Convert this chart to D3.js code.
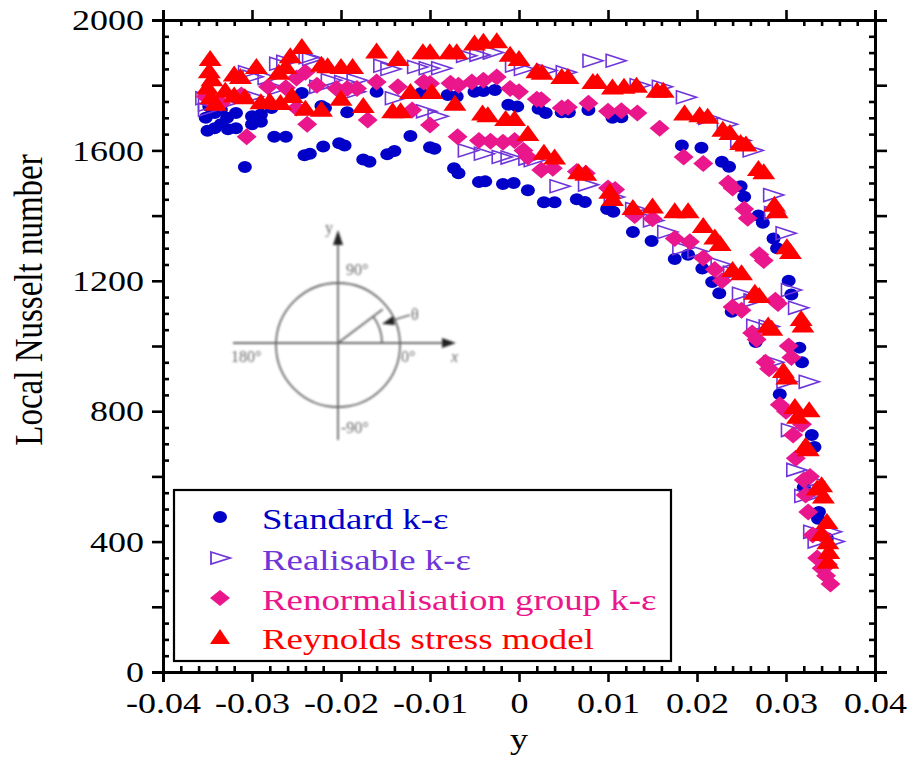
<!DOCTYPE html>
<html>
<head>
<meta charset="utf-8">
<script src="https://cdn.jsdelivr.net/npm/d3@7"></script>
<style>
  html, body { margin: 0; padding: 0; background: #fff; }
  svg text { font-family: "Liberation Serif", "Times New Roman", serif; }
</style>
</head>
<body>
<svg id="chart" width="917" height="763"></svg>
<script>
// Local Nusselt number along the wall coordinate y, four turbulence models.
// Each series holds [y, Nu] pairs (two branches per model).
const standardKE = [
  [-0.0352,1700],[-0.0348,1735],[-0.0342,1715],[-0.0335,1725],[-0.0328,1700],[-0.0318,1715],[-0.0300,1705],[-0.0290,1710],[-0.0278,1730],
  [-0.0244,1776],[-0.0222,1736],[-0.0218,1730],[-0.0193,1717],[-0.0160,1780],[-0.0110,1776],[-0.0080,1770],[-0.0070,1765],[-0.0050,1780],
  [-0.0040,1782],[-0.0027,1785],[-0.0012,1740],[-0.0002,1735],[0.0022,1728],[0.0030,1715],[0.0048,1717],[0.0056,1717],[0.0078,1724],
  [0.0105,1700],[0.0115,1702],[0.0183,1615],[0.0205,1608],[0.0228,1565],[0.0236,1550],[0.0249,1490],[0.0253,1458],[0.0269,1400],
  [0.0274,1378],[0.0286,1330],[0.0290,1300],[0.0303,1200],[0.0306,1158],[0.0315,995],[0.0318,950],[0.0329,727],[0.0332,690],
  [0.0337,491],[0.0346,410],
  [-0.0350,1660],[-0.0342,1668],[-0.0335,1680],[-0.0327,1665],[-0.0318,1668],[-0.0308,1549],[-0.0300,1680],[-0.0290,1688],[-0.0275,1642],
  [-0.0262,1642],[-0.0241,1585],[-0.0235,1590],[-0.0220,1612],[-0.0202,1622],[-0.0196,1615],[-0.0175,1572],[-0.0168,1565],[-0.0148,1588],
  [-0.0140,1598],[-0.0122,1644],[-0.0100,1610],[-0.0095,1605],[-0.0073,1545],[-0.0068,1530],[-0.0045,1503],[-0.0038,1505],[-0.0018,1497],
  [-0.0006,1500],[0.0010,1478],[0.0028,1441],[0.0040,1441],[0.0065,1450],[0.0074,1442],[0.0099,1420],[0.0106,1412],[0.0128,1350],
  [0.0149,1322],[0.0175,1267],[0.0190,1280],[0.0206,1238],[0.0217,1196],[0.0225,1162],[0.0239,1105],[0.0266,1012],[0.0293,852],
  [0.0320,567],[0.0336,470]
];
const realisableKE = [
  [-0.0353,1760],[-0.0350,1740],[-0.0305,1840],[-0.0300,1826],[-0.0283,1822],[-0.0270,1866],[-0.0262,1872],[-0.0237,1886],[-0.0233,1880],
  [-0.0212,1815],[-0.0197,1810],[-0.0183,1815],[-0.0153,1860],[-0.0145,1850],[-0.0115,1856],[-0.0102,1852],[-0.0088,1852],[-0.0060,1890],
  [-0.0045,1893],[-0.0030,1900],[-0.0005,1860],[0.0005,1850],[0.0030,1845],[0.0052,1840],[0.0082,1875],[0.0108,1875],[0.0135,1800],
  [0.0160,1795],[0.0187,1763],[0.0212,1700],[0.0233,1680],[0.0248,1630],[0.0262,1600],[0.0285,1463],[0.0286,1408],[0.0299,1346],
  [0.0305,1172],[0.0313,1117],[0.0325,890],[0.0330,585],[0.0333,545],[0.0350,430],[0.0353,400],
  [-0.0350,1725],[-0.0330,1745],[-0.0300,1765],[-0.0272,1790],[-0.0225,1795],[-0.0185,1780],[-0.0140,1760],[-0.0105,1720],[-0.0092,1705],
  [-0.0058,1600],[-0.0040,1590],[-0.0020,1580],[-0.0010,1578],[0.0010,1575],[0.0016,1570],[0.0045,1490],[0.0077,1495],[0.0106,1457],
  [0.0130,1420],[0.0150,1385],[0.0166,1350],[0.0183,1300],[0.0200,1290],[0.0226,1250],[0.0240,1225],[0.0250,1160],[0.0263,1140],
  [0.0266,1062],[0.0280,1060],[0.0285,950],[0.0300,890],[0.0305,742],[0.0311,620],[0.0320,540],[0.0330,430],[0.0335,400]
];
const rngKE = [
  [-0.0352,1765],[-0.0345,1750],[-0.0335,1745],[-0.0312,1770],[-0.0282,1795],[-0.0262,1792],[-0.0250,1822],[-0.0240,1840],[-0.0227,1800],
  [-0.0205,1790],[-0.0193,1790],[-0.0182,1790],[-0.0160,1810],[-0.0136,1795],[-0.0107,1810],[-0.0100,1805],[-0.0077,1806],[-0.0068,1800],
  [-0.0053,1810],[-0.0040,1815],[-0.0025,1825],[-0.0010,1790],[0.0000,1780],[0.0020,1757],[0.0025,1755],[0.0048,1730],[0.0055,1732],
  [0.0078,1745],[0.0100,1720],[0.0115,1722],[0.0133,1715],[0.0158,1668],[0.0185,1580],[0.0207,1560],[0.0235,1500],[0.0240,1485],
  [0.0253,1420],[0.0257,1392],[0.0270,1280],[0.0275,1262],[0.0288,1140],[0.0291,1130],[0.0303,1000],[0.0306,965],[0.0318,760],
  [0.0327,600],[0.0340,420],[0.0347,330],
  [-0.0306,1642],[-0.0250,1730],[-0.0238,1680],[-0.0170,1693],[-0.0120,1724],[-0.0100,1678],[-0.0069,1642],[-0.0045,1630],[-0.0032,1628],
  [-0.0018,1625],[-0.0005,1630],[0.0005,1600],[0.0010,1580],[0.0025,1540],[0.0038,1545],[0.0065,1535],[0.0075,1530],[0.0100,1485],
  [0.0108,1480],[0.0130,1400],[0.0150,1390],[0.0175,1330],[0.0192,1320],[0.0207,1270],[0.0220,1235],[0.0228,1200],[0.0240,1120],
  [0.0250,1110],[0.0262,1040],[0.0267,1020],[0.0277,950],[0.0281,930],[0.0293,820],[0.0300,800],[0.0308,727],[0.0311,656],
  [0.0320,589],[0.0322,543],[0.0325,491],[0.0330,420],[0.0335,350],[0.0340,318],[0.0345,295],[0.0350,270]
];
const rsm = [
  [-0.0347,1877],[-0.0348,1840],[-0.0345,1815],[-0.0320,1830],[-0.0313,1822],[-0.0295,1853],[-0.0270,1835],[-0.0262,1853],[-0.0257,1886],
  [-0.0244,1914],[-0.0222,1860],[-0.0215,1855],[-0.0200,1853],[-0.0187,1853],[-0.0160,1900],[-0.0136,1877],[-0.0108,1898],[-0.0100,1898],
  [-0.0078,1898],[-0.0070,1898],[-0.0050,1925],[-0.0040,1930],[-0.0025,1932],[-0.0010,1890],[0.0000,1877],[0.0020,1840],[0.0026,1835],
  [0.0048,1822],[0.0055,1822],[0.0083,1807],[0.0088,1807],[0.0105,1790],[0.0118,1792],[0.0132,1795],[0.0155,1780],[0.0162,1780],
  [0.0186,1710],[0.0203,1705],[0.0212,1700],[0.0229,1660],[0.0237,1650],[0.0249,1620],[0.0255,1615],[0.0269,1540],[0.0275,1530],
  [0.0287,1430],[0.0290,1410],[0.0301,1300],[0.0305,1285],[0.0317,1080],[0.0319,1060],[0.0326,800],[0.0340,570],[0.0342,535],
  [0.0346,457],[0.0347,395],[0.0348,365],[0.0347,335],
  [-0.0350,1790],[-0.0346,1760],[-0.0341,1740],[-0.0330,1780],[-0.0320,1765],[-0.0308,1760],[-0.0290,1745],[-0.0280,1748],[-0.0268,1742],
  [-0.0255,1764],[-0.0240,1725],[-0.0222,1722],[-0.0200,1755],[-0.0175,1733],[-0.0142,1717],[-0.0133,1717],[-0.0122,1776],[-0.0098,1776],
  [-0.0072,1740],[-0.0041,1710],[-0.0035,1705],[-0.0015,1693],[-0.0005,1693],[0.0010,1647],[0.0028,1590],[0.0040,1575],[0.0067,1530],
  [0.0075,1525],[0.0102,1470],[0.0105,1448],[0.0128,1420],[0.0150,1425],[0.0175,1410],[0.0190,1410],[0.0207,1365],[0.0220,1330],
  [0.0226,1310],[0.0240,1230],[0.0250,1220],[0.0265,1160],[0.0270,1150],[0.0280,1060],[0.0284,1050],[0.0297,920],[0.0301,900],
  [0.0310,810],[0.0313,780],[0.0322,690],[0.0325,680],[0.0335,560],[0.0340,420]
];

const legendLabels = ["Standard k-\u03b5", "Realisable k-\u03b5", "Renormalisation group k-\u03b5", "Reynolds stress model"];
const xTicks = [-0.04, -0.03, -0.02, -0.01, 0, 0.01, 0.02, 0.03, 0.04];
const yTicks = [0, 400, 800, 1200, 1600, 2000];
const xTitle = "y";
const yTitle = "Local Nusselt number";

const colors = { blue: "#0000c8", purple: "#6f35d9", pink: "#ea168c", red: "#ff0000" };
const STRETCH = 1.2;   // the whole figure uses a horizontally widened typeface

const svg = d3.select("#chart");
const plotLeft = 163, plotRight = 875, plotTop = 20, plotBottom = 672;
const x = d3.scaleLinear().domain([-0.04, 0.04]).range([plotLeft, plotRight]);
const y = d3.scaleLinear().domain([0, 2000]).range([plotBottom, plotTop]);

// ---- inset sketch of the coordinate system (soft grey) ----
const defs = svg.append("defs");
defs.append("filter").attr("id", "soft").append("feGaussianBlur").attr("stdDeviation", 0.8);
const inset = svg.append("g").attr("filter", "url(#soft)").attr("stroke", "#6a6a6a").attr("fill", "none").attr("stroke-width", 1.8);
const cx = 338, cy = 343;
inset.append("circle").attr("cx", cx).attr("cy", cy + 2).attr("r", 62);
inset.append("line").attr("x1", 233).attr("y1", cy).attr("x2", 446).attr("y2", cy);
inset.append("line").attr("x1", cx).attr("y1", 440).attr("x2", cx).attr("y2", 242);
inset.append("path").attr("fill", "#222").attr("stroke", "none").attr("d", `M456,${cy} L442,${cy-5} L442,${cy+5} Z`);
inset.append("path").attr("fill", "#222").attr("stroke", "none").attr("d", `M${cx},230 L${cx-5},245 L${cx+5},245 Z`);
const ang = 37 * Math.PI / 180;
inset.append("line").attr("x1", cx).attr("y1", cy).attr("x2", cx + 56 * Math.cos(ang)).attr("y2", cy - 56 * Math.sin(ang));
const ar = 44;
inset.append("path").attr("d", `M${cx + ar},${cy} A${ar},${ar} 0 0 0 ${cx + ar * Math.cos(ang)},${cy - ar * Math.sin(ang)}`);
inset.append("line").attr("x1", 410).attr("y1", 315).attr("x2", 390).attr("y2", 321);
inset.append("path").attr("fill", "#222").attr("stroke", "none").attr("d", "M382,324 L393,316 L395,325 Z");
const insetText = svg.append("g").attr("filter", "url(#soft)").attr("fill", "#6a6a6a").attr("font-size", 16);
[["y", 325, 233], ["90\u00b0", 346, 275], ["180\u00b0", 231, 362], ["0\u00b0", 401, 362], ["-90\u00b0", 341, 433], ["\u03b8", 411, 320]]
  .forEach(([t, tx, ty]) => insetText.append("text").attr("x", tx).attr("y", ty).text(t));
insetText.append("text").attr("x", 451).attr("y", 362).attr("font-style", "italic").text("x");

// ---- series markers ----
function placeAt(d) { return `translate(${x(d[0])},${y(d[1])})`; }
const triUp = "M0,-10L11.5,6L-11.5,6Z";
const triRight = "M-9,-6.5L11,0L-9,6.5Z";
const diamond = "M0,-8.5L10,0L0,8.5L-10,0Z";

const plot = svg.append("g");
plot.append("g").selectAll("ellipse").data(standardKE).join("ellipse")
  .attr("cx", d => x(d[0])).attr("cy", d => y(d[1])).attr("rx", 7).attr("ry", 6).attr("fill", colors.blue);
plot.append("g").selectAll("path").data(realisableKE).join("path")
  .attr("d", triRight).attr("transform", placeAt)
  .attr("fill", "none").attr("stroke", colors.purple).attr("stroke-width", 1.6);
plot.append("g").selectAll("path").data(rngKE).join("path")
  .attr("d", diamond).attr("transform", placeAt).attr("fill", colors.pink);
plot.append("g").selectAll("path").data(rsm).join("path")
  .attr("d", triUp).attr("transform", placeAt).attr("fill", colors.red);

// ---- axes: long outward majors, short inward minors ----
const xMinor = d3.range(-0.04, 0.04001, 0.002).filter(v => Math.abs(Math.round(v * 100) - v * 100) > 1e-6);
const yMajor = d3.range(0, 2001, 200);
const yMinor = d3.range(0, 2001, 50).filter(v => v % 200 !== 0);
const fmtX = d => (d === 0 ? "0" : d3.format(".2f")(d)).replace("\u2212", "-");

function styleAxis(g) {
  g.select(".domain").attr("stroke", "#000").attr("stroke-width", 3);
  g.selectAll(".tick line").attr("stroke", "#000").attr("stroke-width", 2.6);
}

const axB = svg.append("g").attr("transform", `translate(0,${plotBottom})`)
  .call(d3.axisBottom(x).tickValues(xTicks).tickSize(10).tickPadding(9.7).tickFormat(fmtX)).call(styleAxis);
axB.selectAll("text").attr("font-size", 30).attr("fill", "#000").attr("font-family", "Liberation Serif")
  .attr("transform", `scale(${STRETCH},1)`);
svg.append("g").attr("transform", `translate(0,${plotBottom})`)
  .call(d3.axisBottom(x).tickValues(xMinor).tickSize(-6).tickFormat("")).call(styleAxis)
  .select(".domain").remove();

svg.append("g").attr("transform", `translate(0,${plotTop})`)
  .call(d3.axisTop(x).tickValues(xTicks).tickSize(10).tickFormat("")).call(styleAxis);
svg.append("g").attr("transform", `translate(0,${plotTop})`)
  .call(d3.axisTop(x).tickValues(xMinor).tickSize(-6).tickFormat("")).call(styleAxis)
  .select(".domain").remove();

const axL = svg.append("g").attr("transform", `translate(${plotLeft},0)`)
  .call(d3.axisLeft(y).tickValues(yMajor).tickSize(11).tickPadding(8)
    .tickFormat(d => yTicks.includes(d) ? String(d) : "")).call(styleAxis);
axL.selectAll("text").attr("font-size", 30).attr("fill", "#000").attr("font-family", "Liberation Serif")
  .attr("x", -19 / STRETCH).attr("transform", `scale(${STRETCH},1)`);
svg.append("g").attr("transform", `translate(${plotLeft},0)`)
  .call(d3.axisLeft(y).tickValues(yMinor).tickSize(-6).tickFormat("")).call(styleAxis)
  .select(".domain").remove();

svg.append("g").attr("transform", `translate(${plotRight},0)`)
  .call(d3.axisRight(y).tickValues(yMajor).tickSize(12).tickFormat("")).call(styleAxis);
svg.append("g").attr("transform", `translate(${plotRight},0)`)
  .call(d3.axisRight(y).tickValues(yMinor).tickSize(-6).tickFormat("")).call(styleAxis)
  .select(".domain").remove();

// ---- axis titles ----
svg.append("text").attr("transform", `translate(${(plotLeft + plotRight) / 2},749) scale(${STRETCH},1)`)
  .attr("text-anchor", "middle").attr("font-size", 30).text(xTitle);
svg.append("text").attr("transform", `translate(42,300) scale(${STRETCH},1) rotate(-90)`)
  .attr("text-anchor", "middle").attr("font-size", 33).text(yTitle);

// ---- legend ----
const legend = svg.append("g");
legend.append("rect").attr("x", 174).attr("y", 490).attr("width", 497).attr("height", 171)
  .attr("fill", "#fff").attr("stroke", "#000").attr("stroke-width", 2.2);
const legendItems = [
  { label: legendLabels[0], color: colors.blue, kind: "dot" },
  { label: legendLabels[1], color: colors.purple, kind: "triRight" },
  { label: legendLabels[2], color: colors.pink, kind: "diamond" },
  { label: legendLabels[3], color: colors.red, kind: "triUp" }
];
const rowY = [517, 558, 598, 637];
legendItems.forEach((it, i) => {
  const g = legend.append("g").attr("transform", `translate(220,${rowY[i]})`);
  if (it.kind === "dot") g.append("ellipse").attr("rx", 7).attr("ry", 6).attr("fill", it.color);
  if (it.kind === "triRight") g.append("path").attr("d", "M-9,-6L10,0L-9,6Z").attr("fill", "none").attr("stroke", it.color).attr("stroke-width", 1.8);
  if (it.kind === "diamond") g.append("path").attr("d", "M0,-8L10,0L0,8L-10,0Z").attr("fill", it.color);
  if (it.kind === "triUp") g.append("path").attr("d", "M0,-8L10,7L-10,7Z").attr("fill", it.color);
  legend.append("text").attr("transform", `translate(262,${rowY[i] + 12}) scale(1.23,1)`)
    .attr("font-size", 30).attr("fill", it.color).text(it.label);
});
</script>
</body>
</html>
